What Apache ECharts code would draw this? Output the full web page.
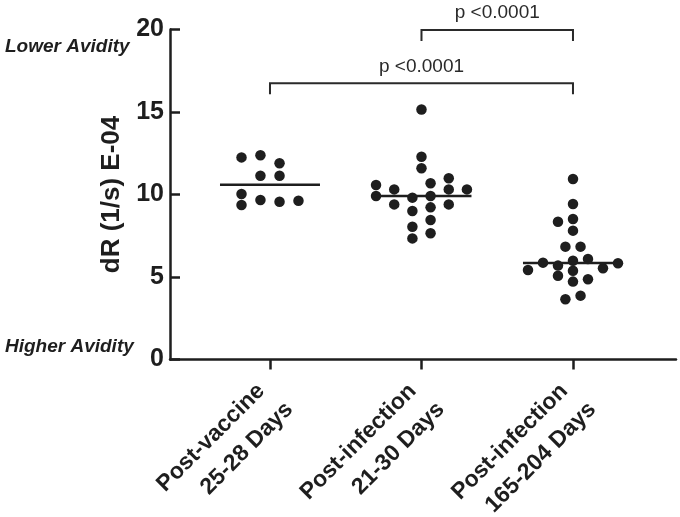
<!DOCTYPE html>
<html><head><meta charset="utf-8">
<script src="https://cdn.jsdelivr.net/npm/echarts@6/dist/echarts.min.js"></script>
<style>html,body{margin:0;padding:0;background:#fff}#c{width:680px;height:517px}</style>
</head><body><div id="c"></div><script>
// ---- data ----
const categoryLine1 = ['Post-vaccine', 'Post-infection', 'Post-infection'];
const categoryLine2 = ['25-28 Days', '21-30 Days', '165-204 Days'];
const categoryPos = [1, 2, 3];

const postVaccineValues = [12.25, 12.38, 11.89, 11.14, 11.14, 10.03, 9.36, 9.67, 9.56, 9.62];
const postVaccineJitter = [-0.188, -0.063, 0.063, -0.063, 0.063, -0.188, -0.188, -0.063, 0.063, 0.188];

const infectionEarlyValues = [15.15, 12.29, 11.59, 10.58, 9.91, 10.31, 9.40, 9.81, 9.00, 8.05, 7.34, 10.68, 9.91, 9.22, 8.45, 7.65, 10.98, 10.31, 9.40, 10.31];
const infectionEarlyJitter = [0, 0, 0, -0.30, -0.30, -0.18, -0.18, -0.06, -0.06, -0.06, -0.06, 0.06, 0.06, 0.06, 0.06, 0.06, 0.18, 0.18, 0.18, 0.30];

const infectionLateValues = [10.94, 9.42, 8.35, 8.52, 7.81, 6.84, 6.84, 5.87, 5.69, 5.99, 6.09, 5.83, 5.42, 5.53, 5.08, 5.38, 4.72, 4.86, 3.65, 3.87];
const infectionLateJitter = [0, 0, -0.099, 0, 0, -0.05, 0.05, -0.198, -0.099, 0, 0.099, 0.297, -0.297, 0.198, -0.099, 0, 0, 0.099, -0.05, 0.05];

const yTicks = [0, 5, 10, 15, 20];

const bracketFrom = [1, 2];
const bracketTo = [3, 3];
const bracketLevel = [16.74, 19.97];
const bracketLabels = ['p <0.0001', 'p <0.0001'];

const yAxisTitle = 'dR (1/s) E-04';
const topNote = 'Lower Avidity';
const bottomNote = 'Higher Avidity';

// ---- helpers ----
function median(arr) {
  const s = arr.slice().sort((a, b) => a - b);
  const n = s.length;
  return n % 2 ? s[(n - 1) / 2] : (s[n / 2 - 1] + s[n / 2]) / 2;
}
const groups = [
  [postVaccineValues, postVaccineJitter],
  [infectionEarlyValues, infectionEarlyJitter],
  [infectionLateValues, infectionLateJitter]
];
const scatterData = [];
groups.forEach((g, gi) => {
  g[0].forEach((v, i) => scatterData.push([categoryPos[gi] + g[1][i], v]));
});
const medianData = groups.map((g, gi) => [categoryPos[gi], median(g[0])]);
const bracketData = bracketFrom.map((f, i) => [f, bracketTo[i], bracketLevel[i]]);

const FONT = '"Liberation Sans", Arial, sans-serif';
const INK = '#1e1e1e';

const chart = echarts.init(document.getElementById('c'), null, { renderer: 'canvas' });
chart.setOption({
  animation: false,
  backgroundColor: '#fff',
  grid: { left: 170, right: 4, top: 29.5, bottom: 157.5, containLabel: false, outerBoundsMode: 'none' },
  xAxis: {
    type: 'value', min: 0.34, max: 3.68,
    splitLine: { show: false },
    axisLine: { show: true, lineStyle: { color: INK, width: 2.5 } },
    axisTick: { show: true, customValues: categoryPos, length: 10, lineStyle: { color: INK, width: 2.5 } },
    axisLabel: {
      customValues: categoryPos,
      rotate: 45, margin: 27, padding: [22, 0, 0, 0],
      formatter: v => {
        const i = categoryPos.indexOf(Math.round(v));
        return '{a|' + categoryLine1[i] + '}\n{b|' + categoryLine2[i] + '}';
      },
      rich: {
        a: { fontSize: 23, fontWeight: 'bold', fontFamily: FONT, color: INK, lineHeight: 33, padding: [0, 7, 0, 0] },
        b: { fontSize: 23, fontWeight: 'bold', fontFamily: FONT, color: INK, lineHeight: 33 }
      }
    }
  },
  yAxis: {
    type: 'value', min: 0, max: 20, interval: 5,
    splitLine: { show: false },
    name: yAxisTitle, nameLocation: 'middle', nameGap: 37,
    nameTextStyle: { fontSize: 26, fontWeight: 'bold', fontFamily: FONT, color: INK },
    axisLine: { show: true, lineStyle: { color: INK, width: 2.5 } },
    axisTick: { show: true, inside: true, length: 10, lineStyle: { color: INK, width: 2.5 } },
    axisLabel: { fontSize: 25, fontWeight: 'bold', fontFamily: FONT, color: INK, margin: 6,
      formatter: v => yTicks.includes(v) ? String(v) : '' }
  },
  graphic: [
    { type: 'text', x: 5, y: 47, style: { text: topNote, font: 'italic bold 19px ' + FONT, fill: INK, verticalAlign: 'middle' } },
    { type: 'text', x: 5, y: 347, style: { text: bottomNote, font: 'italic bold 19px ' + FONT, fill: INK, verticalAlign: 'middle' } }
  ],
  series: [
    {
      type: 'scatter', data: scatterData, symbol: 'circle', symbolSize: 10.5,
      itemStyle: { color: INK, opacity: 1 }, z: 3
    },
    {
      type: 'custom', data: medianData, clip: false, z: 4,
      renderItem: (params, api) => {
        const x = api.value(0), y = api.value(1);
        const a = api.coord([x - 0.33, y]), b = api.coord([x + 0.33, y]);
        return { type: 'line', shape: { x1: a[0], y1: a[1], x2: b[0], y2: b[1] },
          style: { stroke: INK, lineWidth: 2.5 } };
      }
    },
    {
      type: 'custom', data: bracketData, clip: false, z: 4,
      renderItem: (params, api) => {
        const i = params.dataIndex;
        const x1 = api.value(0), x2 = api.value(1), y = api.value(2);
        const p1 = api.coord([x1, y]), p2 = api.coord([x2, y]);
        const drop = 11;
        return { type: 'group', children: [
          { type: 'polyline', shape: { points: [[p1[0], p1[1] + drop], p1, p2, [p2[0], p2[1] + drop]] },
            style: { stroke: '#2a2a2a', lineWidth: 2, fill: null } },
          { type: 'text', style: { text: bracketLabels[i], x: (p1[0] + p2[0]) / 2, y: p1[1] - 17,
            align: 'center', verticalAlign: 'middle', font: '19px ' + FONT, fill: '#2a2a2a' } }
        ] };
      }
    }
  ]
});
</script></body></html>
